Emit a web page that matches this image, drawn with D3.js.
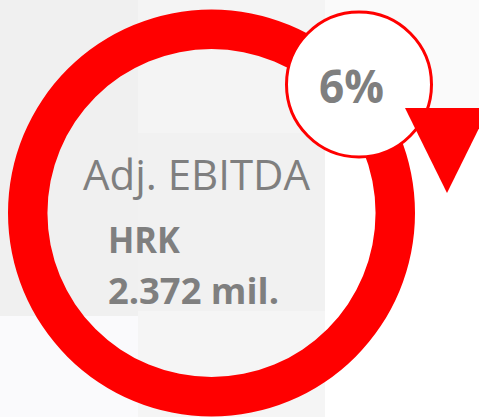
<!DOCTYPE html>
<html>
<head>
<meta charset="utf-8">
<script src="https://cdn.jsdelivr.net/npm/d3@7"></script>
<style>
  html, body { margin: 0; padding: 0; background: #fff; }
  svg { display: block; }
</style>
</head>
<body>
<div id="chart"></div>
<script>
// values
var metric_label = ["Adj. EBITDA"];
var currency_label = ["HRK"];
var value_label = ["2.372 mil."];
var change_label = ["6%"];
var ring_share = [100]; // the ring is a full circle

var width = 479;
var height = 417;

var svg = d3
  .select("#chart")
  .append("svg")
  .attr("width", width)
  .attr("height", height);

// faint background blocks from the slide behind the graphic
var bg_blocks = [
  { x: 0, y: 0, w: 479, h: 417, c: "#ffffff" },
  { x: 325, y: 0, w: 154, h: 130, c: "#fafafa" },
  { x: 0, y: 0, w: 138, h: 316, c: "#f0f0f0" },
  { x: 0, y: 316, w: 138, h: 101, c: "#fafafc" },
  { x: 138, y: 0, w: 187, h: 133, c: "#f4f4f4" },
  { x: 138, y: 133, w: 187, h: 178, c: "#f1f1f1" },
  { x: 138, y: 311, w: 187, h: 106, c: "#f5f5f5" }
];

svg
  .selectAll("rect.bg")
  .data(bg_blocks)
  .join("rect")
  .attr("class", "bg")
  .attr("x", (d) => d.x)
  .attr("y", (d) => d.y)
  .attr("width", (d) => d.w)
  .attr("height", (d) => d.h)
  .attr("fill", (d) => d.c);

// ring
var cx = 211.5;
var cy = 213;

var pie = d3.pie().sort(null);
var arc = d3.arc().innerRadius(164).outerRadius(203.5);

svg
  .append("g")
  .attr("transform", "translate(" + cx + "," + cy + ")")
  .selectAll("path")
  .data(pie(ring_share))
  .join("path")
  .attr("d", arc)
  .attr("fill", "#ff0000");

// center texts
function fit_text(sel, len) {
  sel.attr("textLength", len).attr("lengthAdjust", "spacingAndGlyphs");
}

svg
  .append("text")
  .attr("x", 83)
  .attr("y", 190)
  .attr("font-family", "Open Sans")
  .attr("font-size", 42)
  .attr("fill", "#7f7f7f")
  .text(metric_label[0])
  .call(fit_text, 227);

svg
  .append("text")
  .attr("x", 108)
  .attr("y", 253)
  .attr("font-family", "Open Sans")
  .attr("font-weight", "bold")
  .attr("font-size", 35)
  .attr("fill", "#7f7f7f")
  .text(currency_label[0])
  .call(fit_text, 72);

svg
  .append("text")
  .attr("x", 108)
  .attr("y", 304)
  .attr("font-family", "Open Sans")
  .attr("font-weight", "bold")
  .attr("font-size", 36)
  .attr("fill", "#7f7f7f")
  .text(value_label[0])
  .call(fit_text, 171);

// change badge
var badge = svg.append("g").attr("transform", "translate(359,84.5)");

badge
  .append("circle")
  .attr("r", 72.5)
  .attr("fill", "#ffffff")
  .attr("stroke", "#ff0000")
  .attr("stroke-width", 3);

badge
  .append("text")
  .attr("x", -40)
  .attr("y", 18.5)
  .attr("font-family", "Open Sans")
  .attr("font-weight", "bold")
  .attr("font-size", 46)
  .attr("fill", "#7f7f7f")
  .text(change_label[0])
  .call(fit_text, 65);

// arrow head pointing down
svg
  .append("path")
  .attr("d", d3.line()([[405, 108], [489, 108], [447, 193]]))
  .attr("fill", "#ff0000");
</script>
</body>
</html>
